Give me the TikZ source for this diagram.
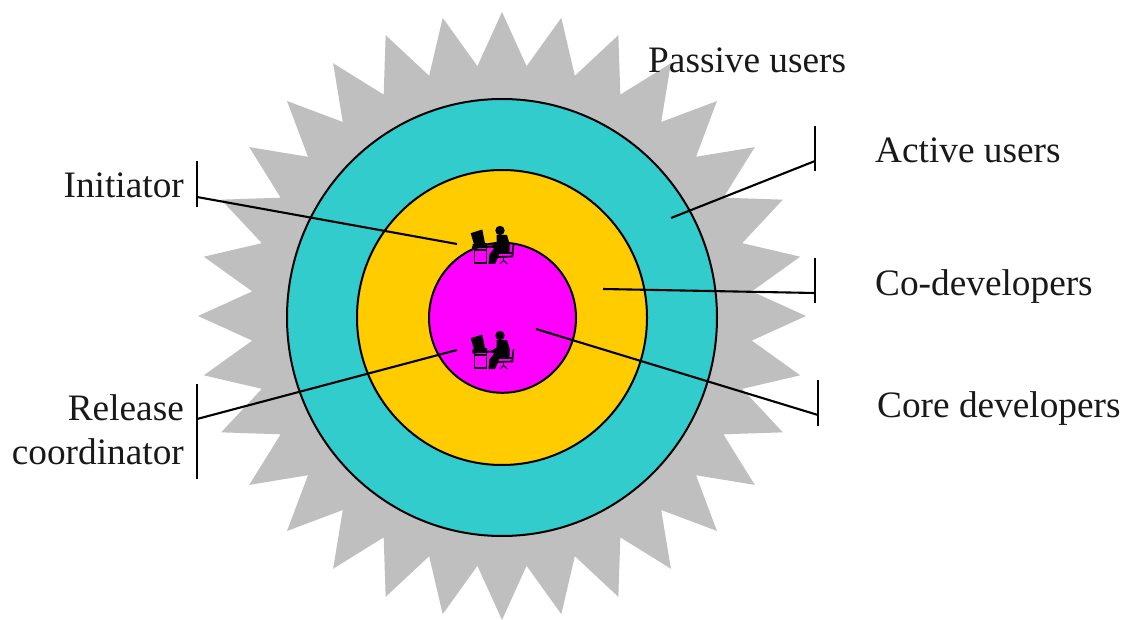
\documentclass[tikz,border=0pt]{standalone}
\usepackage{fontspec}
\usetikzlibrary{shapes.geometric}
\setmainfont{Liberation Serif}
\definecolor{spike}{HTML}{BFBFBF}
\definecolor{activecol}{HTML}{33CCCC}
\definecolor{codevcol}{HTML}{FFCC00}
\definecolor{corecol}{HTML}{FF00FF}
\tikzset{
  ring/.style={ellipse,draw=black,line width=2pt,inner sep=0pt,outer sep=0pt},
  lead/.style={draw=black,line width=2.1pt},
  label/.style={font=\fontsize{37.3}{37.3}\selectfont,inner sep=0pt,anchor=base west,text=black!90},
  rlabel/.style={font=\fontsize{37.3}{37.3}\selectfont,inner sep=0pt,anchor=base east,text=black!90},
  workstation/.pic={
    % coordinates are offsets in px from the head centre
    \fill[black] (-29.3,2.7) -- (-17.7,-1) -- (-15,12.7) -- (-25.5,15.5) -- cycle;
    \fill[black] (-27.5,13.5) -- (-13,12.5) -- (-13,16) -- (-27.5,16.5) -- cycle;
    \draw[black,line width=2pt] (-28,17) -- (-7,16);
    \draw[black,line width=1.9pt] (-25.5,17) -- (-25.5,32.5) -- (-13.5,32.5) -- (-13.5,17);
    \draw[black,line width=1.5pt] (-25.5,19.5) -- (-13.5,19.5);
    \fill[black] (0,0) circle (4.7);
    \fill[black] (-3.5,4.5) -- (7,4.5) -- (9.5,13) -- (9.5,21) -- (-1,23.5) -- (-2,27) -- (-5,33.5) -- (-11.5,33.5) -- (-10.5,24) -- (-6,18) -- (-9,15.5) -- (-3.5,12) -- cycle;
    \draw[black,line width=1.7pt] (-2,22.5) -- (12.5,22.5) -- (13.5,14);
    \draw[black,line width=1.7pt] (-2.5,26.5) -- (12.5,26) -- (12.5,22);
    \draw[black,line width=1pt] (3.5,27) -- (3.5,29.5);
    \draw[black,line width=1pt] (0,33.5) -- (3.5,30) -- (7.5,33.5);
  }
}
\begin{document}
\begin{tikzpicture}[x=1pt,y=-1pt]
\useasboundingbox (0,0) rectangle (1127,620);
\fill[white] (0,0) rectangle (1127,620);
% spiked disc of the passive users
\fill[spike,shift={(502,316)}] (0,-304)
  \foreach \i in {0,...,31} {
    -- ({251*sin((\i+0.5)*11.25)},{-251*cos((\i+0.5)*11.25)})
    -- ({304*sin((\i+1)*11.25)},{-304*cos((\i+1)*11.25)})
  } -- cycle;
% rings
\node[ring,fill=activecol,minimum width=430pt,minimum height=437pt] (active) at (502,317.5) {};
\node[ring,fill=codevcol,minimum width=290pt,minimum height=295pt] (codev) at (502,317.5) {};
\node[ring,fill=corecol,minimum width=147pt,minimum height=150pt] (core) at (502.5,317.8) {};
% people
\pic (initiatorIcon) at (500,230.5) {workstation};
\pic (releaseIcon) at (500,335.5) {workstation};
% labels
\node[label] (passive) at (648,73) {Passive users};
\node[label] (activeL) at (875,162.5) {Active users};
\node[label] (codevL) at (875,295.5) {Co-developers};
\node[label] (coreL) at (877,417) {Core developers};
\node[rlabel] (initL) at (184,198) {Initiator};
\node[rlabel] (relA) at (184,420.5) {Release};
\node[rlabel] (relB) at (184,464) {coordinator};
% leader bars and their free ends
\coordinate (initT) at (197,161); \coordinate (initB) at (197,207); \coordinate (initJ) at (197,197); \coordinate (initE) at (457,244);
\coordinate (relT) at (197,384); \coordinate (relB2) at (197,479); \coordinate (relJ) at (197,419); \coordinate (relE) at (457,350);
\coordinate (actT) at (815,126); \coordinate (actB) at (815,171); \coordinate (actJ) at (815,161); \coordinate (actE) at (671,218);
\coordinate (devT) at (815,258); \coordinate (devB) at (815,303); \coordinate (devJ) at (815,293); \coordinate (devE) at (603,289);
\coordinate (corT) at (818,380); \coordinate (corB) at (818,426); \coordinate (corJ) at (818,415); \coordinate (corE) at (536,329);
\draw[lead] (initT) -- (initB);
\draw[lead] (initJ) -- (initE);
\draw[lead] (relT) -- (relB2);
\draw[lead] (relJ) -- (relE);
\draw[lead] (actT) -- (actB);
\draw[lead] (actJ) -- (actE);
\draw[lead] (devT) -- (devB);
\draw[lead] (devJ) -- (devE);
\draw[lead] (corT) -- (corB);
\draw[lead] (corJ) -- (corE);
\end{tikzpicture}
\end{document}
